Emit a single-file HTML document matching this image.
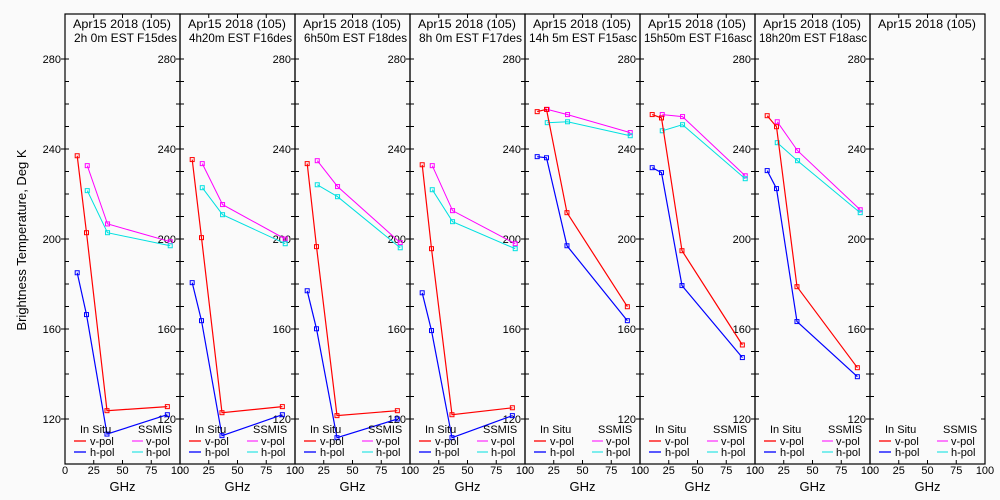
<!DOCTYPE html>
<html><head><meta charset="utf-8">
<style>
html,body{margin:0;padding:0;background:#fafafa;}
svg{display:block;font-family:"Liberation Sans",sans-serif;}
</style></head>
<body>
<svg id="chart" width="1000" height="500" viewBox="0 0 1000 500" xmlns="http://www.w3.org/2000/svg">
<rect x="0" y="0" width="1000" height="500" fill="#fafafa"/>
<text x="26" y="240" font-size="13" text-anchor="middle" transform="rotate(-90 26 240)" fill="#000">Brightness Temperature, Deg K</text>
<g id="panels"></g>
</svg>
<script>
const dateLabel = "Apr15 2018 (105)";
const panelTimes = ["2h 0m EST F15des","4h20m EST F16des","6h50m EST F18des","8h 0m EST F17des","14h 5m EST F15asc","15h50m EST F16asc","18h20m EST F18asc",""];
const insituFreq = [10.6, 18.7, 36.5, 89];
const ssmisFreq = [19.35, 37, 91.5];
const insituV = [
 [237.0,202.8,123.7,125.5],[235.3,200.6,122.8,125.5],[233.5,196.6,121.5,123.7],[233.0,195.7,121.9,125.0],
 [256.6,257.6,211.7,169.9],[255.3,253.8,194.8,152.9],[254.8,249.9,178.8,142.8],null];
const insituH = [
 [185.0,166.4,113.3,121.9],[180.6,163.7,112.6,121.9],[177.0,160.1,111.7,120.0],[176.1,159.3,111.7,121.5],
 [236.6,236.1,197.0,163.7],[231.7,229.5,179.3,147.3],[230.4,222.4,163.3,138.8],null];
const ssmisV = [
 [232.6,206.7,198.8],[233.5,215.3,200.0],[234.8,223.3,198.4],[232.6,212.6,197.9],
 [257.6,255.3,247.3],[255.3,254.4,228.1],[252.1,239.3,213.0],null];
const ssmisH = [
 [221.5,202.8,197.0],[222.8,210.8,197.9],[224.1,218.8,196.1],[221.9,207.7,195.7],
 [251.7,252.1,245.9],[248.1,250.8,226.8],[242.8,234.8,211.7],null];
const yTicks = [120,160,200,240,280];
const xTicks = [0,25,50,75,100];

const NS = "http://www.w3.org/2000/svg";
const P0 = 65, PW = 115, TOP = 14, BOT = 464;
function yS(v){ return 419 - (v-120)*2.25; }
function xS(i,f){ return P0 + i*PW + f*1.15; }
function mk(tag, attrs, parent){
  const e = document.createElementNS(NS, tag);
  for (const k in attrs) e.setAttribute(k, attrs[k]);
  parent.appendChild(e); return e;
}
const root = document.getElementById('panels');

for (let i=0;i<8;i++){
  const g = mk('g',{},root);
  
  
  const L = P0 + i*PW, R = L + PW;
  const fr = mk('rect',{x:L,y:TOP,width:PW,height:BOT-TOP,fill:'none',stroke:'#000','stroke-width':1.2},g);
  
  
  for (let v=120; v<=280; v+=10){
    const y = yS(v);
    mk('line',{x1:L,x2:L+4,y1:y,y2:y,stroke:'#000','stroke-width':1},g);
    mk('line',{x1:R-4,x2:R,y1:y,y2:y,stroke:'#000','stroke-width':1},g);
  }
  if (i<7) yTicks.forEach(v=>{
    const t = mk('text',{x:R-4,y:yS(v)+4,'font-size':11,'text-anchor':'end',fill:'#000'},g);
    t.textContent = v;
    
    
    mk('line',{x1:R-4,x2:R,y1:yS(v),y2:yS(v),stroke:'#000'},g);
  });
  if (i===0) yTicks.forEach(v=>{
    const t = mk('text',{x:L-4,y:yS(v)+4,'font-size':11,'text-anchor':'end',fill:'#000'},g);
    t.textContent = v;
    
    
    mk('line',{x1:L-4,x2:L,y1:yS(v),y2:yS(v),stroke:'#000'},g);
  });
  xTicks.forEach(f=>{
    const x = xS(i,f);
    mk('line',{x1:x,x2:x,y1:TOP,y2:TOP+4,stroke:'#000'},g);
    mk('line',{x1:x,x2:x,y1:BOT-4,y2:BOT,stroke:'#000'},g);
    const t = mk('text',{x:x,y:474,'font-size':11,'text-anchor':'middle',fill:'#000'},g);
    t.textContent = f;
    
    
  });
  const gx = mk('text',{x:L+PW/2,y:491,'font-size':13,'text-anchor':'middle',fill:'#000'},g);
  gx.textContent = 'GHz';
  
  
  const t1 = mk('text',{x:L+8,y:28,'font-size':12,fill:'#000',textLength:98,lengthAdjust:'spacingAndGlyphs'},g);
  t1.textContent = dateLabel;
  
  
  if (panelTimes[i]){
    const off = (i>=4?4:9);
    const tl = Math.min(panelTimes[i].length*6.6, PW-off-3);
    const t2 = mk('text',{x:L+off,y:42,'font-size':12,fill:'#000',textLength:tl,lengthAdjust:'spacingAndGlyphs'},g);
    t2.textContent = panelTimes[i];
    
    
  }
  const series = [
    [ssmisV[i], ssmisFreq, '#ff00ff', 1, 'ssmis-vpol'],
    [ssmisH[i], ssmisFreq, '#00e0e0', 1, 'ssmis-hpol'],
    [insituV[i], insituFreq, '#ff0000', 1.2, 'insitu-vpol'],
    [insituH[i], insituFreq, '#0000ff', 1.2, 'insitu-hpol']
  ];
  series.forEach(([vals,fr,col,w,name])=>{
    if (!vals) return;
    const pts = vals.map((v,k)=>xS(i,fr[k]).toFixed(1)+','+yS(v).toFixed(1)).join(' ');
    const pl = mk('polyline',{points:pts,fill:'none',stroke:col,'stroke-width':w},g);
    
    
    vals.forEach((v,k)=>{
      const m = mk('rect',{x:xS(i,fr[k])-2,y:yS(v)-2,width:4,height:4,fill:'none',stroke:col,'stroke-width':1},g);
      
      
    });
  });
  const lg = mk('g',{},g);
  
  
  const a = mk('text',{x:L+15,y:433,'font-size':11,fill:'#000'},lg); a.textContent='In Situ';
  
  
  const b = mk('text',{x:L+73,y:433,'font-size':11,fill:'#000'},lg); b.textContent='SSMIS';
  
  
  [[441,'v-pol','#ff0000','#ff00ff'],[452,'h-pol','#0000ff','#00e0e0']].forEach(([y,lab,c1,c2])=>{
    mk('line',{x1:L+9,x2:L+21,y1:y,y2:y,stroke:c1,'stroke-width':1.3},lg);
    const t = mk('text',{x:L+25,y:y+4,'font-size':11,fill:'#000'},lg); t.textContent=lab;
    
    
    mk('line',{x1:L+67,x2:L+78,y1:y,y2:y,stroke:c2,'stroke-width':1},lg);
    const t2 = mk('text',{x:L+81,y:y+4,'font-size':11,fill:'#000'},lg); t2.textContent=lab;
    
    
  });
}
</script>
</body></html>
